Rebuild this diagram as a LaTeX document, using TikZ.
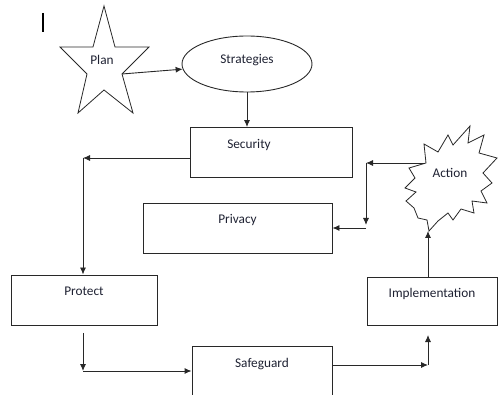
\documentclass[tikz,border=0pt]{standalone}
\usepackage{fontspec}
\setmainfont{Carlito}
\usetikzlibrary{arrows.meta,shapes.geometric,positioning}
\definecolor{inkline}{RGB}{40,40,40}
\definecolor{inktext}{RGB}{30,33,50}
\tikzset{
         box/.style={draw=inkline, line width=0.9pt, inner sep=0pt, text height=21pt, text depth=29pt},
         wire/.style={draw=inkline, line width=0.8pt},
         link/.style={draw=inkline, line width=0.9pt, -{Latex[length=7pt,width=6pt]}}
        }

\begin{document}
\begin{tikzpicture}[x=1pt,y=-1pt,font=\fontsize{13.3}{15}\selectfont,text=inktext]
      \useasboundingbox (0,0) rectangle (498,395);
      \draw[line width=1.4pt] (43,13) -- (43,32); % cursor mark
      \draw[wire,fill=white] (104,6) -- (115,47) -- (149,47) -- (122,74) -- (133,113) -- (104,90) -- (78,113) -- (87,74) -- (60,47) -- (93,47) -- cycle; % star
      \node (plan) at (102,60) {Plan};
      \coordinate (planout) at (122,74);
      \node[draw=inkline,line width=0.9pt,ellipse,minimum width=130,minimum height=56,inner sep=0pt,text height=9pt,text depth=9pt] (strategies) at (247,64) {Strategies};
      \node[box,minimum width=162] (security) at (271,152.5) {\hspace*{-44pt}Security};
      \node[box,minimum width=189] (privacy) at (237.5,228) {Privacy};
      \node[box,minimum width=146] (protect) at (84,300) {Protect};
      \node[box,minimum width=140] (safeguard) at (262,371) {Safeguard};
      \node[box,minimum width=130,text depth=27pt] (implementation) at (432,301) {Implementation};
      \draw[wire,fill=white] (426,163) -- (424,144) -- (438,152) -- (448,135) -- (453,145) -- (470,126) -- (468,143) -- (484,135) -- (479,153) -- (497,158) -- (483,173) -- (492,183) -- (481,191) -- (487,203) -- (472,201) -- (474,213) -- (461,209) -- (453,220) -- (448,213) -- (438,221) -- (429,231) -- (427,220) -- (418,218) -- (414,208) -- (406,201) -- (416,192) -- (405,188) -- (415,178) -- (409,168) -- cycle; % burst
      \node (action) at (450,173) {Action};
      \coordinate (actleft) at (425,163);
      \coordinate (actbottom) at (428,231);
      % turning points
      \coordinate (secturn) at (83,158);
      \coordinate (actturn) at (366,163);
      \coordinate (privturn) at (366,228);
      \coordinate (protout) at (83,333);
      \coordinate (protturn) at (83,371);
      \coordinate (safeturn) at (428,365);
      \coordinate (implin) at (428,335);
      % connectors
      \draw[link] (planout) -- (strategies);
      \draw[link] (strategies.south) -- (strategies.south |- security.north);
      \draw[link] ([yshift=-5.5pt]security.west) -- (secturn);
      \draw[link] (secturn) -- (secturn |- protect.north);
      \draw[link] (actleft) -- (actturn);
      \draw[link] (actturn) -- ([yshift=3pt]privturn);
      \draw[link] (privturn) -- (privturn -| privacy.east);
      \draw[link] (protout) -- (protturn);
      \draw[link] (protturn) -- (protturn -| safeguard.west);
      \draw[link] ([yshift=6pt]safeguard.east) -- (safeturn);
      \draw[link] (safeturn) -- (implin);
      \draw[link] (implementation.north -| actbottom) -- (actbottom);
\end{tikzpicture}
\end{document}
